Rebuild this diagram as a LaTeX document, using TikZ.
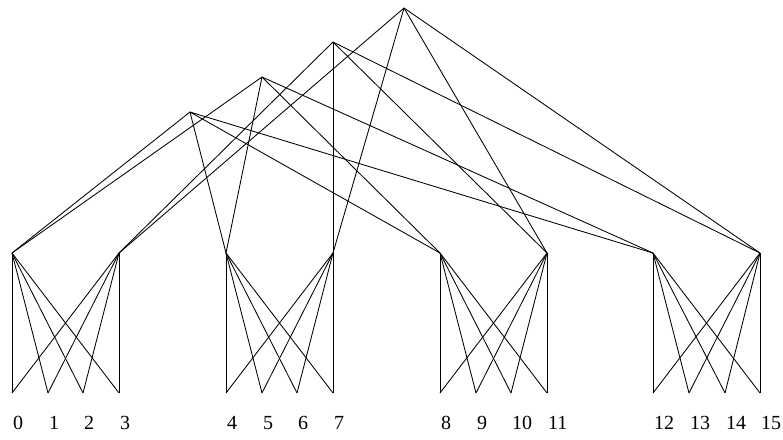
\documentclass[tikz,border=0pt]{standalone}
\usepackage{fontspec}
\setmainfont{Liberation Serif}
\begin{document}
\begin{tikzpicture}[x=1pt,y=-1pt,
  wire/.style={line width=0.85pt,black},
  lbl/.style={anchor=base west,inner sep=0pt,font=\fontsize{20}{24}\selectfont}]
\useasboundingbox (0,0) rectangle (783,439);

% top switching nodes
\coordinate (t1) at (404,8);
\coordinate (t2) at (333,42);
\coordinate (t3) at (262,77);
\coordinate (t4) at (190,112);

% middle row
\foreach \i/\x in {0/12,1/119,2/226,3/333,4/440,5/547,6/653,7/760}
  \coordinate (m\i) at (\x,253);

% leaves and their labels
\foreach \i/\x in {0/12,1/48,2/83,3/119,4/226,5/262,6/297,7/333,
                   8/440,9/476,10/511,11/547,12/653,13/689,14/725,15/760}{
  \coordinate (b\i) at (\x,393);
  \node[lbl] (n\i) at ([xshift=1pt]\x,429) {\i};
}

% top to middle
\foreach \m in {0,2,4,6}{
  \draw[wire] (t4) -- (m\m);
  \draw[wire] (t3) -- (m\m);
}
\foreach \m in {1,3,5,7}{
  \draw[wire] (t2) -- (m\m);
  \draw[wire] (t1) -- (m\m);
}

% middle to leaves: each pair feeds its group of four
\foreach \g in {0,1,2,3}{
  \pgfmathtruncatemacro{\ma}{2*\g}
  \pgfmathtruncatemacro{\mb}{2*\g+1}
  \foreach \k in {0,1,2,3}{
    \pgfmathtruncatemacro{\leaf}{4*\g+\k}
    \draw[wire] (m\ma) -- (b\leaf);
    \draw[wire] (m\mb) -- (b\leaf);
  }
}
\end{tikzpicture}
\end{document}
